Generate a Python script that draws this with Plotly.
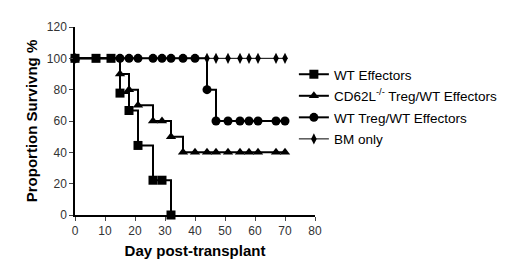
import plotly.graph_objects as go

# Data (Kaplan-Meier style survival, %)
wt_eff_day = [0, 7, 12, 15, 18, 21, 26, 29, 32]
wt_eff_surv = [100, 100, 100, 77.8, 66.7, 44.4, 22.2, 22.2, 0]

cd62l_day = [0, 15, 18, 21, 26, 29, 32, 36, 40, 44, 47, 51, 55, 58, 61, 67, 70]
cd62l_surv = [100, 90, 80, 70, 60, 60, 50, 40, 40, 40, 40, 40, 40, 40, 40, 40, 40]

wt_treg_day = [0, 15, 18, 21, 26, 29, 32, 36, 40, 44, 47, 51, 55, 58, 61, 67, 70]
wt_treg_surv = [100, 100, 100, 100, 100, 100, 100, 100, 100, 80, 60, 60, 60, 60, 60, 60, 60]

bm_day = [0, 44, 47, 51, 55, 58, 61, 67, 70]
bm_surv = [100, 100, 100, 100, 100, 100, 100, 100, 100]

x_ticks = [0, 10, 20, 30, 40, 50, 60, 70, 80]
y_ticks = [0, 20, 40, 60, 80, 100, 120]

fig = go.Figure()

fig.add_trace(go.Scatter(
    x=bm_day, y=bm_surv, name="BM only", mode="lines+markers",
    line=dict(color="black", width=1, shape="hv"),
    marker=dict(symbol="diamond-tall", size=8, color="black"),
    legendrank=4, legendgroup="d", cliponaxis=False))
fig.add_trace(go.Scatter(
    x=wt_treg_day, y=wt_treg_surv, name="WT Treg/WT Effectors", mode="lines+markers",
    line=dict(color="black", width=2, shape="hv"),
    marker=dict(symbol="circle", size=9, color="black"),
    legendrank=3, legendgroup="c", cliponaxis=False))
fig.add_trace(go.Scatter(
    x=cd62l_day, y=cd62l_surv, name="CD62L<sup>-/-</sup> Treg/WT Effectors", mode="lines+markers",
    line=dict(color="black", width=2, shape="hv"),
    marker=dict(symbol="triangle-up", size=9, color="black"),
    legendrank=2, legendgroup="b", cliponaxis=False))
fig.add_trace(go.Scatter(
    x=wt_eff_day, y=wt_eff_surv, name="WT Effectors", mode="lines+markers",
    line=dict(color="black", width=2, shape="hv"),
    marker=dict(symbol="square", size=9, color="black"),
    legendrank=1, legendgroup="a", cliponaxis=False))

axis_font = dict(family="Liberation Sans, Arial, sans-serif", size=12, color="#333333")
fig.update_layout(
    width=520, height=266,
    margin=dict(l=67, r=213, t=17, b=59),
    paper_bgcolor="white", plot_bgcolor="white",
    font=dict(family="Liberation Sans, Arial, sans-serif", color="black"),
    showlegend=True,
    legend=dict(x=0.912, y=0.83, xanchor="left", yanchor="top",
                font=dict(size=13.5, color="black"), tracegroupgap=1,
                traceorder="grouped",
                bgcolor="rgba(0,0,0,0)", itemwidth=30),
    xaxis=dict(range=[0, 80], tickvals=x_ticks, ticks="outside", ticklen=4,
               showline=True, linecolor="black", linewidth=1.5, showgrid=False,
               zeroline=False, tickfont=axis_font,
               title=dict(text="<b>Day post-transplant</b>", font=dict(size=15), standoff=8)),
    yaxis=dict(range=[0, 120], tickvals=y_ticks, ticks="outside", ticklen=4,
               showline=True, linecolor="black", linewidth=1.5, showgrid=False,
               zeroline=False, tickfont=axis_font,
               title=dict(text="<b>Proportion Survivng %</b>", font=dict(size=15), standoff=6)),
)

fig.write_html("out.html")
